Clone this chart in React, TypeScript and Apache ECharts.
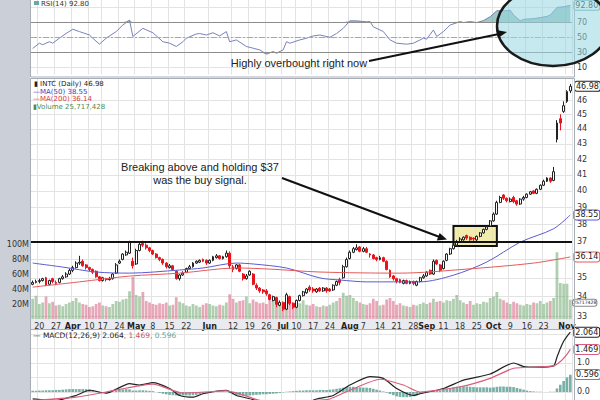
import React, { useEffect, useRef } from "react";
import * as echarts from "echarts";

// ---------- categories (trading days) ----------
const monthDays: [string, number[]][] = [
  ["Mar", [16, 17, 20, 21, 22, 23, 24, 27, 28, 29, 30, 31]],
  ["Apr", [3, 4, 5, 6, 7, 10, 11, 12, 13, 17, 18, 19, 20, 21, 24, 25, 26, 27, 28]],
  ["May", [1, 2, 3, 4, 5, 8, 9, 10, 11, 12, 15, 16, 17, 18, 19, 22, 23, 24, 25, 26, 30, 31]],
  ["Jun", [1, 2, 5, 6, 7, 8, 9, 12, 13, 14, 15, 16, 19, 20, 21, 22, 23, 26, 27, 28, 29, 30]],
  ["Jul", [3, 5, 6, 7, 10, 11, 12, 13, 14, 17, 18, 19, 20, 21, 24, 25, 26, 27, 28, 31]],
  ["Aug", [1, 2, 3, 4, 7, 8, 9, 10, 11, 14, 15, 16, 17, 18, 21, 22, 23, 24, 25, 28, 29, 30, 31]],
  ["Sep", [1, 5, 6, 7, 8, 11, 12, 13, 14, 15, 18, 19, 20, 21, 22, 25, 26, 27, 28, 29]],
  ["Oct", [2, 3, 4, 5, 6, 9, 10, 11, 12, 13, 16, 17, 18, 19, 20, 23, 24, 25, 26, 27, 30, 31]],
  ["Nov", [1, 2]],
];
const dates: string[] = [];
monthDays.forEach(([m, ds]) => ds.forEach((d) => dates.push(m + " " + d)));

// x tick labels
const tickLabels: [string, string][] = [
  ["Mar 20", "20"], ["Mar 27", "27"], ["Apr 3", "Apr"], ["Apr 10", "10"], ["Apr 17", "17"], ["Apr 24", "24"],
  ["May 1", "May"], ["May 8", "8"], ["May 15", "15"], ["May 22", "22"], ["Jun 1", "Jun"], ["Jun 12", "12"],
  ["Jun 19", "19"], ["Jun 26", "26"], ["Jul 3", "Jul"], ["Jul 10", "10"], ["Jul 17", "17"], ["Jul 24", "24"],
  ["Aug 1", "Aug"], ["Aug 7", "7"], ["Aug 14", "14"], ["Aug 21", "21"], ["Aug 28", "28"], ["Sep 1", "Sep"],
  ["Sep 11", "11"], ["Sep 18", "18"], ["Sep 25", "25"], ["Oct 2", "Oct"], ["Oct 9", "9"], ["Oct 16", "16"],
  ["Oct 23", "23"], ["Nov 1", "Nov"],
];
const priceGridTicks = [33, 34, 35, 36, 37, 38, 39, 40, 41, 42, 43, 44, 45, 46];
const priceLabelTicks = [33, 34, 35, 37, 38, 39, 40, 41, 42, 43, 44, 45, 46];
const rsiTicks = [10, 30, 50, 70];
const macdTicks = [0, 1];

// ---------- price candles [open, close, low, high] ----------
const ohlc: number[][] = [
  // Mar
  [34.65, 34.75, 34.6, 34.85], [34.75, 34.8, 34.7, 34.9], [34.8, 34.85, 34.7, 34.95], [34.85, 34.95, 34.8, 35.0],
  [35.0, 34.6, 34.55, 35.05], [34.65, 34.85, 34.6, 34.9], [34.95, 34.8, 34.7, 35.0], [34.75, 34.7, 34.6, 34.85],
  [34.75, 34.95, 34.7, 35.0], [34.95, 35.05, 34.9, 35.15], [35.05, 35.2, 35.0, 35.3], [35.2, 35.4, 35.15, 35.5],
  // Apr
  [35.4, 35.55, 35.3, 35.65], [35.55, 35.8, 35.5, 35.9], [35.8, 35.85, 35.7, 36.2], [35.9, 35.65, 35.6, 36.0],
  [35.7, 35.55, 35.45, 35.75], [35.55, 35.45, 35.35, 35.6], [35.45, 35.3, 35.2, 35.5], [35.35, 35.05, 35.0, 35.4],
  [35.05, 34.85, 34.8, 35.1], [34.85, 35.0, 34.8, 35.05], [34.95, 34.9, 34.8, 35.0], [34.9, 34.95, 34.85, 35.05],
  [34.95, 35.2, 34.9, 35.25], [35.25, 35.7, 35.2, 35.8], [35.8, 35.9, 35.75, 36.0], [36.0, 36.3, 35.95, 36.35],
  [36.25, 36.4, 36.2, 36.5], [36.35, 36.95, 36.3, 37.05], [35.9, 35.65, 35.5, 36.1],
  // May
  [35.75, 36.5, 35.7, 36.6], [36.5, 36.85, 36.45, 36.95], [36.9, 36.8, 36.7, 37.05], [36.8, 36.65, 36.55, 36.9],
  [36.65, 36.5, 36.4, 36.7], [36.5, 36.3, 36.25, 36.55], [36.3, 36.1, 36.05, 36.35], [36.1, 36.0, 35.9, 36.15],
  [36.0, 35.8, 35.7, 36.05], [35.8, 35.6, 35.5, 35.85], [35.55, 35.65, 35.5, 35.75], [35.65, 35.45, 35.4, 35.7],
  [35.35, 34.95, 34.9, 35.4], [34.95, 35.15, 34.85, 35.2], [35.15, 35.25, 35.1, 35.35], [35.3, 35.5, 35.25, 35.55],
  [35.5, 35.6, 35.45, 35.7], [35.6, 35.8, 35.55, 35.85], [35.8, 35.9, 35.75, 35.95], [35.85, 35.95, 35.8, 36.0],
  [36.0, 35.9, 35.85, 36.05], [35.95, 35.8, 35.7, 36.0],
  // Jun
  [35.8, 35.95, 35.75, 36.0], [35.95, 36.15, 35.9, 36.2], [36.1, 36.2, 36.05, 36.3], [36.2, 36.05, 36.0, 36.25],
  [36.05, 36.15, 36.0, 36.2], [36.15, 36.35, 36.1, 36.5], [36.35, 35.65, 35.5, 36.45], [35.6, 35.45, 35.3, 35.7],
  [35.5, 35.7, 35.45, 35.75], [35.7, 35.35, 35.3, 35.75], [35.2, 34.95, 34.85, 35.25], [34.95, 35.1, 34.9, 35.2],
  [35.15, 35.35, 35.1, 35.4], [35.2, 34.65, 34.6, 35.25], [34.6, 34.45, 34.35, 34.7], [34.45, 34.3, 34.2, 34.5],
  [34.35, 34.25, 34.15, 34.4], [34.3, 34.15, 34.05, 34.4], [34.1, 33.85, 33.8, 34.15], [33.8, 34.0, 33.75, 34.05],
  [33.95, 33.6, 33.45, 34.0], [33.55, 33.7, 33.5, 33.8],
  // Jul
  [33.7, 33.35, 33.25, 33.75], [33.35, 34.1, 33.3, 34.2], [34.0, 33.65, 33.55, 34.05], [33.65, 33.45, 33.35, 33.7],
  [33.45, 33.8, 33.4, 33.85], [33.8, 34.05, 33.75, 34.1], [34.05, 34.25, 34.0, 34.3], [34.2, 34.4, 34.15, 34.45],
  [34.5, 34.35, 34.25, 34.6], [34.4, 34.3, 34.2, 34.5], [34.25, 34.4, 34.2, 34.45], [34.45, 34.3, 34.25, 34.5],
  [34.3, 34.45, 34.25, 34.5], [34.45, 34.3, 34.2, 34.5], [34.4, 34.3, 34.25, 34.45], [34.35, 34.6, 34.3, 34.65],
  [34.6, 34.8, 34.55, 34.85], [34.9, 34.75, 34.6, 35.0], [35.0, 35.6, 34.95, 35.7], [35.6, 36.0, 35.55, 36.1],
  // Aug
  [36.05, 36.4, 36.0, 36.5], [36.4, 36.6, 36.35, 36.7], [36.55, 36.65, 36.5, 36.85], [36.7, 36.45, 36.4, 36.75],
  [36.45, 36.6, 36.4, 36.7], [36.6, 36.4, 36.35, 36.7], [36.3, 36.25, 36.1, 36.35], [36.25, 36.05, 36.0, 36.3],
  [36.1, 36.0, 35.9, 36.15], [36.0, 36.1, 35.95, 36.2], [36.1, 35.9, 35.85, 36.15], [35.9, 35.45, 35.4, 35.95],
  [35.4, 35.05, 35.0, 35.45], [35.1, 34.95, 34.85, 35.15], [34.95, 34.8, 34.7, 35.0], [34.9, 34.75, 34.7, 34.95],
  [34.7, 34.85, 34.65, 34.9], [34.85, 34.7, 34.65, 34.9], [34.7, 34.8, 34.65, 34.85], [34.8, 34.7, 34.6, 34.85],
  [34.6, 34.8, 34.55, 34.85], [34.8, 35.0, 34.75, 35.05], [35.0, 35.1, 34.95, 35.2],
  // Sep
  [35.1, 35.3, 35.05, 35.35], [35.4, 35.2, 35.15, 35.45], [35.2, 35.9, 35.15, 36.0], [35.95, 35.75, 35.7, 36.0],
  [35.7, 35.4, 35.3, 35.75], [35.5, 35.9, 35.45, 35.95], [35.95, 36.3, 35.9, 36.35], [36.3, 36.6, 36.25, 36.65],
  [36.6, 36.8, 36.55, 36.85], [36.8, 37.0, 36.75, 37.1], [37.0, 37.15, 36.95, 37.25], [37.1, 37.25, 37.05, 37.3],
  [37.35, 37.2, 37.1, 37.4], [37.25, 37.1, 37.05, 37.3], [37.2, 37.15, 37.0, 37.25], [37.1, 37.3, 37.0, 37.35],
  [37.3, 37.5, 37.25, 37.55], [37.5, 37.7, 37.45, 37.75], [37.7, 37.85, 37.65, 37.9], [37.9, 38.2, 37.85, 38.25],
  // Oct
  [38.2, 38.6, 38.15, 38.7], [38.6, 39.3, 38.55, 39.4], [39.3, 39.6, 39.25, 39.7], [39.75, 39.55, 39.45, 39.8],
  [39.55, 39.4, 39.3, 39.6], [39.35, 39.5, 39.3, 39.6], [39.6, 39.35, 39.25, 39.7], [39.4, 39.2, 39.1, 39.45],
  [39.2, 39.5, 39.15, 39.55], [39.5, 39.6, 39.4, 39.7], [39.6, 39.8, 39.55, 39.85], [39.8, 39.95, 39.75, 40.0],
  [40.0, 39.85, 39.8, 40.05], [39.85, 40.1, 39.8, 40.15], [40.1, 40.35, 40.05, 40.4], [40.35, 40.6, 40.3, 40.7],
  [40.6, 40.8, 40.55, 40.85], [40.8, 40.6, 40.5, 40.85], [40.65, 41.2, 40.6, 41.5], [43.3, 44.4, 43.1, 44.6],
  [44.7, 44.4, 43.9, 45.0], [45.2, 45.6, 45.1, 45.9],
  // Nov
  [45.9, 46.6, 45.8, 46.7], [46.65, 46.98, 46.5, 47.15],
];

// volume, millions
const volume: number[] = [
  27, 31, 20, 22, 30, 21, 23, 18, 19, 17, 20, 22,
  24, 28, 22, 20, 19, 16, 17, 20, 22, 18, 17, 16, 20, 24, 23, 26, 27, 37, 56,
  32, 30, 36, 24, 22, 20, 19, 21, 20, 22, 18, 19, 29, 23, 21, 18, 17, 20, 18, 16, 19, 21,
  20, 18, 17, 19, 18, 22, 33, 27, 22, 24, 25, 30, 21, 26, 23, 21, 22, 20, 25, 24, 28, 22,
  18, 30, 24, 22, 20, 21, 25, 19, 18, 20, 17, 16, 18, 17, 19, 22, 24, 28, 35, 31,
  32, 28, 24, 22, 20, 19, 21, 27, 24, 18, 19, 26, 28, 24, 19, 21, 18, 17, 16, 19, 18, 20, 22,
  20, 22, 27, 23, 24, 22, 25, 24, 27, 32, 25, 22, 20, 24, 19, 21, 20, 23, 22, 28,
  30, 36, 27, 25, 22, 20, 23, 21, 19, 18, 20, 19, 22, 21, 24, 20, 22, 24, 28, 89, 48, 47, 47, 25.717428,
];

// moving averages read at points [dayIndex, value]
const ma50Pts: [number, number][] = [
  [0, 35.8], [9, 35.58], [19, 35.31], [29, 35.25], [44, 35.42], [51, 35.53], [61, 35.8], [66, 35.75],
  [76, 35.53], [86, 34.99], [92, 34.88], [100, 34.78], [116, 34.78], [126, 35.14], [136, 35.86],
  [146, 36.97], [156, 37.74], [161, 38.55],
];
const ma200Pts: [number, number][] = [
  [0, 34.5], [14, 34.78], [29, 35.09], [44, 35.25], [61, 35.53], [71, 35.47], [86, 35.31], [110, 35.25],
  [130, 35.47], [150, 35.8], [161, 36.14],
];

// RSI(14) read at points
const rsiPts: [number, number][] = [
  [0, 35], [2, 42], [3, 40], [5, 44], [6, 42], [8, 48.7], [10, 55], [12, 60.7], [14, 57.6], [17, 53], [18, 48.7],
  [20, 40.7], [22, 48.7], [25, 57.6], [27, 66.4], [29, 73], [30, 51], [33, 62], [34, 60], [36, 56], [39, 44],
  [41, 42], [43, 37.6], [45, 44], [46, 48.7], [49, 54.4], [50, 55], [52, 53], [54, 56], [56, 51.8], [58, 57.6],
  [59, 44], [61, 46.4], [64, 37.6], [66, 35.3], [68, 33], [70, 27.3], [72, 30.9], [73, 28.6], [75, 33], [76, 44],
  [77, 42], [80, 46.4], [82, 48.7], [84, 51.8], [86, 53], [89, 50], [91, 55], [93, 62], [95, 72], [97, 72],
  [100, 70.7], [101, 71], [102, 64], [104, 59.8], [105, 57.6], [107, 46.4], [109, 42], [112, 40.7], [114, 42],
  [116, 46.4], [117, 48.7], [118, 47.5], [120, 59.8], [121, 51], [123, 57.6], [125, 66.4], [128, 71], [129, 69.7],
  [131, 71], [133, 69.7], [135, 72.4], [137, 77.6], [139, 85.6], [142, 85.6], [143, 86.4], [144, 79.8],
  [146, 72.2], [147, 74], [150, 75], [152, 76.4], [154, 78], [155, 79.8], [157, 90], [159, 91], [161, 92.8],
];

// MACD(12,26,9) read at points
const macdPts: [number, number][] = [
  [0, -0.24], [7, -0.29], [13, -0.12], [17, 0.06], [22, -0.04], [29, 0.29], [32, 0.24], [36, 0.32], [41, 0.12],
  [44, -0.12], [48, -0.18], [51, -0.06], [58, 0.06], [61, -0.12], [67, -0.29], [72, -0.5], [78, -0.55],
  [85, -0.24], [90, -0.12], [95, 0.24], [101, 0.53], [105, 0.47], [109, 0.12], [114, -0.12], [116, -0.06],
  [123, 0.12], [129, 0.41], [137, 0.62], [144, 1.0], [147, 0.88], [151, 0.86], [156, 0.9], [157, 1.2],
  [158, 1.5], [159, 1.75], [160, 1.92], [161, 2.064],
];
const signalPts: [number, number][] = [
  [0, -0.29], [13, -0.18], [22, 0], [36, 0.27], [45, -0.04], [58, 0.04], [68, -0.29], [75, -0.45], [85, -0.29],
  [89, -0.24], [95, 0.06], [104, 0.44], [111, 0.24], [116, 0], [128, 0.18], [137, 0.47], [144, 0.82],
  [151, 0.86], [156, 0.9], [158, 1.05], [160, 1.3], [161, 1.469],
];
const histogram: number[] = [
  0.04, 0.04, 0.05, 0.05, 0.06, 0.06, 0.06, 0.07,
  0.07, 0.08, 0.09, 0.1, 0.1, 0.1, 0.1, 0.1, 0.1,
  0.09, 0.07, 0.04, 0.01, -0.02, -0.04,
  -0.02, 0.01, 0.04, 0.07, 0.09, 0.1, 0.09, 0.05,
  0.05, 0.06, 0.06, 0.05, 0.04, 0.03, 0.0, -0.03,
  -0.06, -0.08, -0.1, -0.11, -0.12, -0.12, -0.12, -0.12, -0.12,
  -0.11, -0.1, -0.08, -0.06, -0.04, -0.02, 0.0, 0.01, 0.02,
  0.02, 0.01, -0.04, -0.08, -0.11, -0.12, -0.13, -0.13, -0.12, -0.11,
  -0.1, -0.09, -0.08, -0.08, -0.07, -0.06, -0.05, -0.03, -0.01, 0.01,
  0.02, 0.03, 0.04, 0.05, 0.05, 0.06, 0.06, 0.06, 0.06, 0.07, 0.07, 0.07, 0.08, 0.09,
  0.11, 0.13, 0.15, 0.17, 0.18, 0.18, 0.17, 0.16, 0.15, 0.15, 0.14, 0.11, 0.08, 0.05,
  0.02, -0.02, -0.07, -0.11, -0.15, -0.17, -0.18, -0.18, -0.17, -0.15, -0.11, -0.07, -0.03,
  0.0, 0.03, 0.05, 0.04, 0.05, 0.07, 0.1, 0.13, 0.16, 0.18, 0.19, 0.2, 0.19,
  0.18, 0.17, 0.16, 0.16, 0.16, 0.16, 0.15, 0.16, 0.18, 0.19, 0.19, 0.18, 0.18, 0.17,
  0.14, 0.11, 0.08, 0.05, 0.03, 0.02, 0.01, 0.01, 0.0, 0.0, 0.01, 0.01,
  0.12, 0.25, 0.38, 0.5, 0.596,
];

const lastLabels = { close: "46.98", ma50: "38.55", ma200: "36.14", vol: "25717428", rsi: "92.80", macd: "2.064", signal: "1.469", hist: "0.596" };

// ---------- helpers ----------
const N = dates.length;
const sparse = (pts: [number, number][]) => {
  const a: (number | null)[] = new Array(N).fill(null);
  pts.forEach(([i, v]) => (a[i] = v));
  return a;
};

const FONT = "DejaVu Sans, Verdana, sans-serif";
const AFONT = "Liberation Sans, Arial, sans-serif";
const L = 31;
const W = 541;

function buildOption() {
  const labelMap: Record<string, string> = {};
  tickLabels.forEach(([d, t]) => (labelMap[d] = t));
  const months = new Set(["Apr", "May", "Jun", "Jul", "Aug", "Sep", "Oct", "Nov"]);
  const showTick = (_i: number, v: string) => labelMap[v] !== undefined;

  const rsi = sparse(rsiPts);
  const rsiHigh = rsi.map((v) => (v == null ? null : Math.max(v, 70)));
  const rsiLow = rsi.map((v) => (v == null ? null : Math.min(v, 30)));

  const volData = volume.map((v, i) => {
    const up = i === 0 ? ohlc[i][1] >= ohlc[i][0] : ohlc[i][1] >= ohlc[i - 1][1];
    return { value: v, itemStyle: { color: up ? "rgba(112,168,112,0.55)" : "rgba(214,96,128,0.55)" } };
  });

  const vGrid = { show: true, interval: showTick, lineStyle: { color: "#e3e3e3", width: 1 } };
  const xBase = (gridIndex: number, withLabels: boolean, split: boolean) => ({
    type: "category",
    gridIndex,
    data: dates,
    boundaryGap: true,
    axisLine: { show: false },
    axisTick: { show: false },
    splitLine: split ? vGrid : { show: false },
    axisLabel: withLabels
      ? {
          interval: showTick,
          margin: 3,
          fontSize: 8,
          fontFamily: FONT,
          color: "#333",
          formatter: (v: string) => {
            const t = labelMap[v] || "";
            return months.has(t) ? "{b|" + t + "}" : t;
          },
          rich: { b: { fontWeight: "bold", fontSize: 8, fontFamily: FONT, color: "#222" } },
        }
      : { show: false },
  });

  const boxLabel = (color: string, text: string, size = 8) => ({
    show: true,
    formatter: text,
    fontSize: size,
    fontFamily: FONT,
    color: "#222",
    backgroundColor: "#fff",
    borderColor: color,
    borderWidth: 1,
    borderRadius: 2,
    padding: [1, 1, 0, 1],
  });

  return {
    animation: false,
    backgroundColor: "#ffffff",
    grid: [
      { left: L, width: W, top: -0.5, height: 75 },
      { left: L, width: W, top: 79, height: 240 },
      { left: L, width: W, top: 79, height: 240 },
      { left: L, width: W, top: 330, height: 70 },
    ],
    xAxis: [xBase(0, false, true), xBase(1, true, true), xBase(2, false, false), xBase(3, false, true)],
    yAxis: [
      {
        type: "value", gridIndex: 0, min: 0, max: 100, position: "right",
        axisLine: { show: false },
        axisTick: { show: false, customValues: [10, 30, 50, 70, 90] },
        splitLine: { show: true, lineStyle: { color: "#e3e3e3" } },
        axisLabel: { customValues: rsiTicks, fontSize: 8, fontFamily: FONT, color: "#333", margin: 5 },
      },
      {
        type: "log", gridIndex: 1, min: 32.85, max: 47.51, position: "right",
        axisLine: { show: false },
        axisTick: { show: false, customValues: priceGridTicks },
        splitLine: { show: true, lineStyle: { color: "#e3e3e3" } },
        axisLabel: {
          customValues: priceLabelTicks, fontSize: 8, fontFamily: FONT, color: "#333", margin: 5,
          formatter: (v: number) => String(Math.round(v)),
        },
      },
      {
        type: "value", gridIndex: 2, min: 0, max: 320, interval: 20, position: "left",
        axisLine: { show: false }, axisTick: { show: false }, splitLine: { show: false },
        axisLabel: {
          fontSize: 8, fontFamily: FONT, color: "#333", margin: 2,
          formatter: (v: number) => (v > 0 && v <= 100 ? v + "M" : ""),
        },
      },
      {
        type: "value", gridIndex: 3, min: -0.276, max: 2.138, position: "right",
        axisLine: { show: false },
        axisTick: { show: false, customValues: [0, 0.5, 1, 1.5, 2] },
        splitLine: { show: true, lineStyle: { color: "#e3e3e3" } },
        axisLabel: {
          customValues: macdTicks, fontSize: 8, fontFamily: FONT, color: "#333", margin: 5,
          formatter: (v: number) => v.toFixed(1),
        },
      },
    ],
    series: [
      // RSI fills
      {
        type: "line", xAxisIndex: 0, yAxisIndex: 0, data: rsiHigh, connectNulls: true, symbol: "none",
        lineStyle: { width: 0 }, areaStyle: { origin: 70, color: "rgba(70,150,140,0.75)" }, z: 2, silent: true,
      },
      {
        type: "line", xAxisIndex: 0, yAxisIndex: 0, data: rsiLow, connectNulls: true, symbol: "none",
        lineStyle: { width: 0 }, areaStyle: { origin: 30, color: "rgba(70,150,140,0.75)" }, z: 2, silent: true,
      },
      {
        type: "line", name: "RSI", xAxisIndex: 0, yAxisIndex: 0, data: rsi, connectNulls: true, symbol: "none",
        lineStyle: { color: "#7883b8", width: 1 }, z: 3,
        endLabel: { ...boxLabel("#6aa9a3", lastLabels.rsi), distance: 4 },
        markLine: {
          silent: true, symbol: ["none", "none"], label: { show: false },
          data: [
            { yAxis: 70, lineStyle: { color: "#8c8c8c", width: 1, type: "solid" } },
            { yAxis: 30, lineStyle: { color: "#8c8c8c", width: 1, type: "solid" } },
            { yAxis: 50, lineStyle: { color: "#a8a8a8", width: 1, type: [6, 2, 2, 2] } },
          ],
        },
      },
      // volume
      {
        type: "bar", name: "Volume", xAxisIndex: 2, yAxisIndex: 2, data: volData, barWidth: 2.8, z: 1,
        markLine: {
          silent: true, symbol: ["none", "none"],
          data: [{ yAxis: volume[N - 1], lineStyle: { width: 0, color: "rgba(0,0,0,0)" }, label: { ...boxLabel("#888", lastLabels.vol, 4.6), padding: [1, 0, 0, 0], position: "end", distance: 1, offset: [0, 3] } }],
        },
      },
      // candles
      {
        type: "candlestick", name: "INTC", xAxisIndex: 1, yAxisIndex: 1, data: ohlc, barWidth: 2.4, z: 3,
        itemStyle: { color: "#ffffff", color0: "#e8141c", borderColor: "#222222", borderColor0: "#e8141c", borderWidth: 1 },
        markLine: {
          silent: true, symbol: ["none", "none"],
          data: [
            { yAxis: 37, lineStyle: { color: "#111", width: 2, type: "solid" }, label: { show: false } },
            { yAxis: ohlc[N - 1][1], lineStyle: { width: 0, color: "rgba(0,0,0,0)" }, label: { ...boxLabel("#222", lastLabels.close), position: "end", distance: 3 } },
          ],
        },
        markArea: {
          silent: true,
          itemStyle: { color: "rgba(236,226,140,0.7)", borderColor: "#111", borderWidth: 2 },
          data: [[{ xAxis: "Sep 14", yAxis: 36.75 }, { xAxis: "Oct 3", yAxis: 37.9 }]],
        },
      },
      {
        type: "line", name: "MA(50)", xAxisIndex: 1, yAxisIndex: 1, data: sparse(ma50Pts), connectNulls: true,
        smooth: 0.3, symbol: "none", lineStyle: { color: "#5b5bd0", width: 1 }, z: 4,
        endLabel: { ...boxLabel("#5b5bd0", lastLabels.ma50), distance: 4 },
      },
      {
        type: "line", name: "MA(200)", xAxisIndex: 1, yAxisIndex: 1, data: sparse(ma200Pts), connectNulls: true,
        smooth: 0.3, symbol: "none", lineStyle: { color: "#e45a5a", width: 1 }, z: 4,
        endLabel: { ...boxLabel("#e45a5a", lastLabels.ma200), distance: 4 },
      },
      // MACD
      {
        type: "bar", name: "Hist", xAxisIndex: 3, yAxisIndex: 3, data: histogram, barWidth: 2.6, z: 1,
        itemStyle: { color: "rgba(72,150,138,0.75)" },
        markLine: {
          silent: true, symbol: ["none", "none"],
          data: [{ yAxis: histogram[N - 1], lineStyle: { width: 0, color: "rgba(0,0,0,0)" }, label: { ...boxLabel("#6a80b0", lastLabels.hist), position: "end", distance: 3 } }],
        },
      },
      {
        type: "line", name: "MACD", xAxisIndex: 3, yAxisIndex: 3, data: sparse(macdPts), connectNulls: true,
        smooth: 0.2, symbol: "none", lineStyle: { color: "#222", width: 1.2 }, z: 3,
        endLabel: { ...boxLabel("#222", lastLabels.macd), distance: 4 },
      },
      {
        type: "line", name: "Signal", xAxisIndex: 3, yAxisIndex: 3, data: sparse(signalPts), connectNulls: true,
        smooth: 0.2, symbol: "none", lineStyle: { color: "#d8607e", width: 1.2 }, z: 3,
        endLabel: { ...boxLabel("#d8607e", lastLabels.signal), distance: 4 },
      },
    ],
    graphic: [
      { type: "rect", z: -1, shape: { x: 0, y: 0, width: 30, height: 400 }, style: { fill: "#cbcfd8" } },
      { type: "rect", z: -1, shape: { x: 31, y: 319, width: 543, height: 10 }, style: { fill: "#e9ebf0" } },
      { type: "rect", z: 50, shape: { x: 30.5, y: -5, width: 544, height: 82 }, style: { fill: "none", stroke: "#a9adb6", lineWidth: 1 } },
      { type: "rect", z: 50, shape: { x: 30.5, y: 78.5, width: 544, height: 251 }, style: { fill: "none", stroke: "#a9adb6", lineWidth: 1 } },
      { type: "rect", z: 50, shape: { x: 30.5, y: 329.5, width: 544, height: 80 }, style: { fill: "none", stroke: "#a9adb6", lineWidth: 1 } },
      // ellipse annotation
      { type: "ellipse", z: 60, shape: { cx: 553, cy: 26, rx: 56, ry: 40 }, style: { fill: "rgba(150,215,225,0.55)", stroke: "#1a1a1a", lineWidth: 2.5 } },
      // arrow to ellipse
      { type: "line", z: 60, shape: { x1: 369, y1: 61, x2: 499, y2: 34 }, style: { stroke: "#111", lineWidth: 2 } },
      { type: "polygon", z: 60, shape: { points: [[507, 32], [498, 37.9], [496.4, 30.1]] }, style: { fill: "#111" } },
      // arrow to box
      { type: "line", z: 60, shape: { x1: 282, y1: 178, x2: 439, y2: 236.8 }, style: { stroke: "#111", lineWidth: 2 } },
      { type: "polygon", z: 60, shape: { points: [[447, 239.6], [436.8, 240.5], [439.6, 233]] }, style: { fill: "#111" } },
      // annotation texts
      { type: "text", z: 60, x: 299, y: 63, style: { text: "Highly overbought right now", font: "11px " + AFONT, fill: "#222", textAlign: "center", textVerticalAlign: "middle" } },
      { type: "text", z: 60, x: 200, y: 160, style: { text: "Breaking above and holding $37\nwas the buy signal.", font: "11px " + AFONT, fill: "#222", textAlign: "center", textVerticalAlign: "top", lineHeight: 13 } },
      // panel headers
      { type: "rect", z: 55, shape: { x: 34, y: 1, width: 5, height: 4 }, style: { fill: "#6aa9a3" } },
      { type: "text", z: 55, x: 41, y: 3.5, style: { text: "RSI(14) 92.80", font: "7px " + FONT, fill: "#333", textVerticalAlign: "middle" } },
      { type: "text", z: 55, x: 34, y: 84, style: { text: "▮ INTC (Daily) 46.98", font: "7px " + FONT, fill: "#222", textVerticalAlign: "middle" } },
      { type: "text", z: 55, x: 33, y: 91.5, style: { text: "—MA(50) 38.55", font: "7px " + FONT, fill: "#3d3dbf", textVerticalAlign: "middle" } },
      { type: "text", z: 55, x: 33, y: 99, style: { text: "—MA(200) 36.14", font: "7px " + FONT, fill: "#d63c3c", textVerticalAlign: "middle" } },
      { type: "text", z: 55, x: 33, y: 106.5, style: { text: "▮Volume 25,717,428", font: "7px " + FONT, fill: "#4f8a4f", textVerticalAlign: "middle" } },
      {
        type: "text", z: 55, x: 33, y: 335,
        style: {
          text: "{k|— MACD(12,26,9) 2.064}{r|, 1.469}{g|, 0.596}",
          font: "7.5px " + FONT, textVerticalAlign: "middle",
          rich: {
            k: { fill: "#222", font: "7.5px " + FONT },
            r: { fill: "#c8506e", font: "7.5px " + FONT },
            g: { fill: "#5aa59a", font: "7.5px " + FONT },
          },
        },
      },
    ],
  };
}

export default function App() {
  const ref = useRef<HTMLDivElement>(null);
  useEffect(() => {
    if (!ref.current) return;
    const chart = echarts.init(ref.current, null, { renderer: "svg" });
    chart.setOption(buildOption() as any);
    return () => chart.dispose();
  }, []);
  return <div ref={ref} style={{ position: "fixed", left: 0, top: 0, width: 600, height: 400 }} />;
}
